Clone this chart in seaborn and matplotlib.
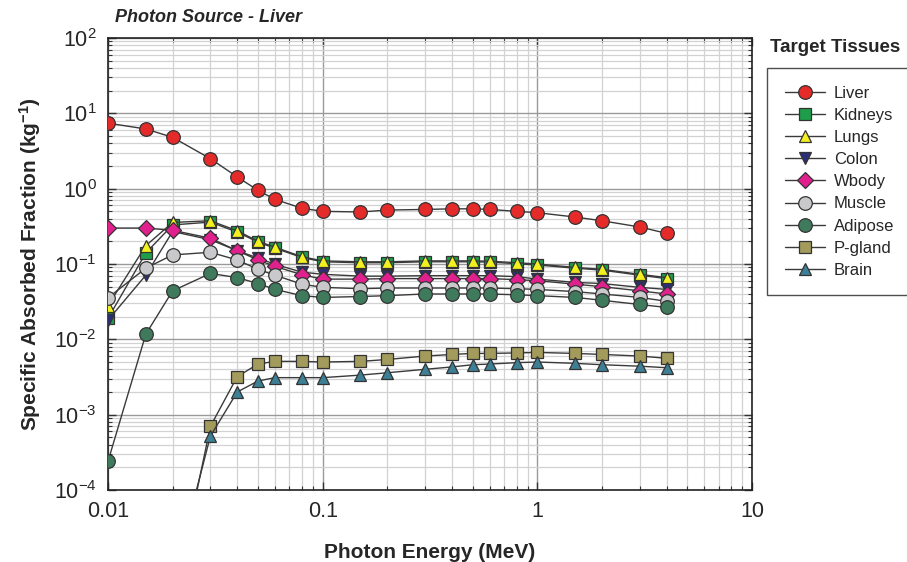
import numpy as np
import pandas as pd
import matplotlib
matplotlib.use("Agg")
import matplotlib.pyplot as plt
import seaborn as sns
from matplotlib.lines import Line2D
from matplotlib.ticker import LogLocator, FixedLocator, FixedFormatter, NullFormatter

energy = [0.01, 0.015, 0.02, 0.03, 0.04, 0.05, 0.06, 0.08, 0.1, 0.15, 0.2,
          0.3, 0.4, 0.5, 0.6, 0.8, 1.0, 1.5, 2.0, 3.0, 4.0]

liver   = [7.4, 6.2, 4.8, 2.5, 1.43, 0.95, 0.72, 0.55, 0.50, 0.49, 0.52,
           0.53, 0.54, 0.54, 0.53, 0.50, 0.48, 0.42, 0.375, 0.31, 0.255]
kidneys = [0.019, 0.14, 0.33, 0.36, 0.265, 0.195, 0.162, 0.122, 0.107, 0.104, 0.104,
           0.107, 0.107, 0.107, 0.106, 0.101, 0.097, 0.088, 0.083, 0.071, 0.064]
lungs   = [0.028, 0.175, 0.356, 0.375, 0.276, 0.20, 0.167, 0.125, 0.11, 0.107, 0.107,
           0.11, 0.11, 0.11, 0.109, 0.104, 0.10, 0.09, 0.085, 0.073, 0.066]
colon   = [0.018, 0.071, 0.27, 0.21, 0.15, 0.12, 0.099, 0.078, 0.073, 0.069, 0.069,
           0.07, 0.07, 0.07, 0.07, 0.068, 0.063, 0.057, 0.055, 0.049, 0.046]
wbody   = [0.30, 0.30, 0.28, 0.22, 0.15, 0.113, 0.093, 0.072, 0.063, 0.063, 0.064,
           0.064, 0.064, 0.064, 0.064, 0.062, 0.06, 0.054, 0.05, 0.044, 0.04]
muscle  = [0.0356, 0.088, 0.132, 0.143, 0.113, 0.085, 0.071, 0.054, 0.049, 0.047, 0.048,
           0.048, 0.048, 0.048, 0.048, 0.047, 0.046, 0.043, 0.04, 0.036, 0.032]
adipose = [0.00024, 0.0117, 0.044, 0.075, 0.066, 0.055, 0.046, 0.038, 0.036, 0.037, 0.038,
           0.04, 0.04, 0.04, 0.04, 0.039, 0.038, 0.036, 0.033, 0.029, 0.0265]
pgland  = [np.nan, np.nan, 2.8e-6, 7.0e-4, 3.2e-3, 4.7e-3, 5.1e-3, 5.1e-3, 5.0e-3, 5.1e-3, 5.4e-3,
           6.0e-3, 6.3e-3, 6.5e-3, 6.5e-3, 6.6e-3, 6.7e-3, 6.5e-3, 6.3e-3, 6.0e-3, 5.6e-3]
brain   = [np.nan, np.nan, 6.0e-6, 5.2e-4, 2.0e-3, 2.8e-3, 3.1e-3, 3.1e-3, 3.1e-3, 3.35e-3, 3.6e-3,
           4.0e-3, 4.3e-3, 4.6e-3, 4.7e-3, 4.9e-3, 5.0e-3, 4.8e-3, 4.6e-3, 4.4e-3, 4.2e-3]

tissues = ["Liver", "Kidneys", "Lungs", "Colon", "Wbody", "Muscle", "Adipose", "P-gland", "Brain"]
series = [liver, kidneys, lungs, colon, wbody, muscle, adipose, pgland, brain]
colors = ["#e52a2a", "#1e9e4a", "#f2f01e", "#2c2e78", "#e0208c", "#c9c9cc",
          "#3f7a5c", "#a39b5c", "#3d7f94"]
markers = ["o", "s", "^", "v", "D", "o", "o", "s", "^"]
msizes = [9.8, 8.5, 9, 9, 8, 9.8, 9.8, 8.5, 9]

xticks = [0.01, 0.1, 1, 10]
xticklabels = ["0.01", "0.1", "1", "10"]
yticks = [1e-4, 1e-3, 1e-2, 1e-1, 1e0, 1e1, 1e2]
yticklabels = [r"10$^{-4}$", r"10$^{-3}$", r"10$^{-2}$", r"10$^{-1}$",
               r"10$^{0}$", r"10$^{1}$", r"10$^{2}$"]

df = pd.DataFrame({"Energy": np.tile(energy, len(tissues)),
                   "SAF": np.concatenate(series),
                   "Tissue": np.repeat(tissues, len(energy))})

sns.set_style("white")
plt.rcParams["font.family"] = ["Liberation Sans", "DejaVu Sans"]
plt.rcParams["mathtext.fontset"] = "custom"
plt.rcParams["mathtext.rm"] = "Liberation Sans"
plt.rcParams["mathtext.it"] = "Liberation Sans:italic"
plt.rcParams["mathtext.bf"] = "Liberation Sans:bold"

fig = plt.figure(figsize=(9.07, 5.62), dpi=100)
ax = fig.add_axes([108 / 907, 1 - 490 / 562, (752 - 108) / 907, (490 - 38) / 562])

linecol = "#3a3a3a"
handles = []
for t, c, m, ms in zip(tissues, colors, markers, msizes):
    sub = df[df["Tissue"] == t].dropna()
    sns.lineplot(data=sub, x="Energy", y="SAF", ax=ax, color=linecol, lw=1.0,
                 marker=m, markersize=ms, markerfacecolor=c, markeredgecolor="#333333",
                 markeredgewidth=0.9, legend=False, zorder=3)
    handles.append(Line2D([0], [0], color=linecol, lw=1.0, marker=m, markersize=ms,
                          markerfacecolor=c, markeredgecolor="#333333", markeredgewidth=0.9,
                          label=t))

ax.set_xscale("log")
ax.set_yscale("log")
ax.set_xlim(0.01, 10)
ax.set_ylim(1e-4, 1e2)

ax.xaxis.set_major_locator(FixedLocator(xticks))
ax.xaxis.set_major_formatter(FixedFormatter(xticklabels))
ax.xaxis.set_minor_locator(LogLocator(base=10, subs=np.arange(2, 10), numticks=20))
ax.xaxis.set_minor_formatter(NullFormatter())
ax.yaxis.set_major_locator(FixedLocator(yticks))
ax.yaxis.set_major_formatter(FixedFormatter(yticklabels))
ax.yaxis.set_minor_locator(LogLocator(base=10, subs=np.arange(2, 10), numticks=20))
ax.yaxis.set_minor_formatter(NullFormatter())

ax.grid(which="major", color="#9a9a9a", lw=1.0, zorder=0)
ax.grid(which="minor", color="#d2d2d2", lw=0.9, zorder=0)
ax.set_axisbelow(True)

ax.tick_params(which="both", direction="in", top=True, right=True, bottom=True, left=True,
               color="#333333")
ax.tick_params(which="major", length=6, width=1.0, labelsize=15.5, pad=8)
ax.tick_params(which="minor", length=3, width=0.8)
for s in ax.spines.values():
    s.set_color("#222222")
    s.set_linewidth(1.2)

ax.set_xlabel("Photon Energy (MeV)", fontsize=15, fontweight="bold", labelpad=15)
ax.set_ylabel(r"Specific Absorbed Fraction (kg$^{\mathbf{-1}}$)", fontsize=15,
              fontweight="bold", labelpad=8)
fig.text(115 / 907, 1 - 17 / 562, "Photon Source - Liver", fontsize=13,
         fontweight="bold", fontstyle="italic", va="center", ha="left")

fig.text(835 / 907, 1 - 48 / 562, "Target Tissues", fontsize=13.5, fontweight="bold",
         ha="center", va="center")
leg = fig.legend(handles=handles, loc="upper left", bbox_to_anchor=(767 / 907, 1 - 68 / 562),
                 frameon=True, fancybox=False, edgecolor="#222222", fontsize=12,
                 handlelength=2.4, handletextpad=0.55, labelspacing=0.43,
                 borderpad=1.05, borderaxespad=0)
leg.get_frame().set_linewidth(1.0)

fig.savefig("out.png", dpi=100)
